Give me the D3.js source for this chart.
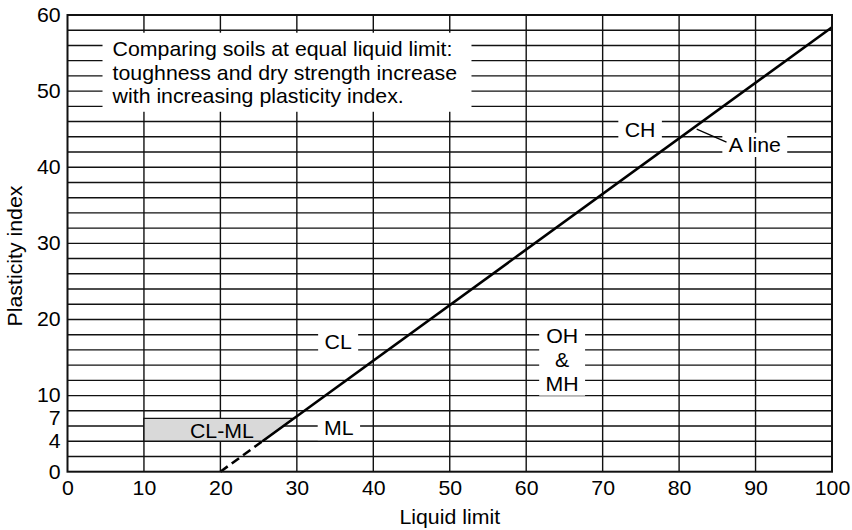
<!DOCTYPE html>
<html>
<head>
<meta charset="utf-8">
<script src="https://cdn.jsdelivr.net/npm/d3@7"></script>
<style>
  html, body { margin: 0; padding: 0; background: #fff; }
  svg { display: block; }
  text { font-family: "Liberation Sans", Arial, Helvetica, sans-serif; fill: #000; }
</style>
</head>
<body>
<svg id="chart" width="852" height="530"></svg>
<script>
// ---- data ----
const xTicks = [0, 10, 20, 30, 40, 50, 60, 70, 80, 90, 100];
const yTicks = [0, 4, 7, 10, 20, 30, 40, 50, 60];
const xGrid = [10, 20, 30, 40, 50, 60, 70, 80, 90];
const yGrid = [2, 4, 6, 8, 10, 12, 14, 16, 18, 20, 22, 24, 26, 28, 30, 32, 34, 36, 38, 40, 42, 44, 46, 48, 50, 52, 54, 56, 58];
const aLineDashed = [[20, 0], [25.5, 4]];
const aLineSolid = [[25.5, 4], [100, 58.4]];
const clmlZone = [[10, 4], [10, 7], [29.6, 7], [25.5, 4]];
const zoneLabels = [
  { lines: ["CH"], ll: 74.9, pi: 44.9 },
  { lines: ["A line"], ll: 89.9, pi: 42.9 },
  { lines: ["CL"], ll: 35.4, pi: 17.0 },
  { lines: ["OH", "&", "MH"], ll: 64.7, pi: 14.7 },
  { lines: ["ML"], ll: 35.5, pi: 5.7 }
];
const clmlLabel = { text: "CL-ML", ll: 20.2, pi: 5.4 };
const leader = [[82.3, 45.0], [86.2, 43.3]];
const noteLines = [
  "Comparing soils at equal liquid limit:",
  "toughness and dry strength increase",
  "with increasing plasticity index."
];
const notePos = { ll: 5.9, pi: 54.6 };
const xTitle = "Liquid limit";
const yTitle = "Plasticity index";

// ---- layout ----
const svg = d3.select("#chart");
const x = d3.scaleLinear().domain([0, 100]).range([67.5, 832]);
const y = d3.scaleLinear().domain([0, 60]).range([471.7, 15]);
const FS = 20;
const SX = 1.065;
const ink = "#111";

// grid
svg.append("g").selectAll("line").data(yGrid).join("line")
  .attr("x1", x(0)).attr("x2", x(100))
  .attr("y1", d => y(d)).attr("y2", d => y(d))
  .attr("stroke", ink).attr("stroke-width", 1.4);
svg.append("g").selectAll("line").data(xGrid).join("line")
  .attr("y1", y(0)).attr("y2", y(60))
  .attr("x1", d => x(d)).attr("x2", d => x(d))
  .attr("stroke", ink).attr("stroke-width", 1.4);

// CL-ML zone
const line = d3.line().x(d => x(d[0])).y(d => y(d[1]));
svg.append("path").datum(clmlZone)
  .attr("d", d => line(d) + "Z")
  .attr("fill", "#d9d9d9").attr("stroke", ink).attr("stroke-width", 1.4);

// A line
svg.append("path").datum(aLineSolid).attr("d", line)
  .attr("fill", "none").attr("stroke", "#000").attr("stroke-width", 2.6);
svg.append("path").datum(aLineDashed).attr("d", line)
  .attr("fill", "none").attr("stroke", "#000").attr("stroke-width", 2.6)
  .attr("stroke-dasharray", "9,5");

// note box
const noteG = svg.append("g")
  .attr("transform", `translate(${x(notePos.ll)},${y(notePos.pi)}) scale(${SX},1)`);
const noteRect = noteG.append("rect").attr("fill", "#fff");
const noteText = noteG.append("text").attr("font-size", FS);
noteText.selectAll("tspan").data(noteLines).join("tspan")
  .attr("x", 0)
  .attr("y", (d, i) => i * 23.4)
  .text(d => d);
{
  const b = noteText.node().getBBox();
  noteRect.attr("x", b.x - 8.5).attr("y", b.y - 5)
    .attr("width", b.width + 22).attr("height", b.height + 10);
}

// zone labels with white backgrounds
zoneLabels.forEach(L => {
  const g = svg.append("g")
    .attr("transform", `translate(${x(L.ll)},${y(L.pi)}) scale(${SX},1)`);
  const r = g.append("rect").attr("fill", "#fff");
  const t = g.append("text").attr("font-size", FS).attr("text-anchor", "middle");
  const n = L.lines.length;
  t.selectAll("tspan").data(L.lines).join("tspan")
    .attr("x", 0)
    .attr("y", (d, i) => (i - (n - 1) / 2) * 24)
    .attr("dy", "0.35em")
    .text(d => d);
  const b = t.node().getBBox();
  r.attr("x", b.x - 6).attr("y", b.y - 1)
    .attr("width", b.width + 12).attr("height", b.height + 2);
});

// CL-ML label
svg.append("text").attr("font-size", FS).attr("text-anchor", "middle")
  .attr("transform", `translate(${x(clmlLabel.ll)},${y(clmlLabel.pi)}) scale(${SX},1)`)
  .attr("dy", "0.35em")
  .text(clmlLabel.text);

// leader line
svg.append("path").datum(leader).attr("d", line)
  .attr("stroke", "#000").attr("stroke-width", 1.2).attr("fill", "none");

// border
svg.append("rect")
  .attr("x", x(0)).attr("y", y(60))
  .attr("width", x(100) - x(0)).attr("height", y(0) - y(60))
  .attr("fill", "none").attr("stroke", ink).attr("stroke-width", 2);

// axes
const xAxis = svg.append("g").attr("transform", `translate(0,${y(0)})`)
  .call(d3.axisBottom(x).tickValues(xTicks).tickSize(0).tickPadding(9).tickFormat(d3.format("d")));
const yAxis = svg.append("g").attr("transform", `translate(${x(0)},0)`)
  .call(d3.axisLeft(y).tickValues(yTicks).tickSize(0).tickPadding(6.5).tickFormat(d3.format("d")));
[xAxis, yAxis].forEach(a => {
  a.select(".domain").remove();
  a.selectAll("text").attr("font-size", FS)
    .attr("font-family", "'Liberation Sans', Arial, sans-serif").attr("fill", "#000")
    .attr("transform", `scale(${SX},1)`);
});

// titles
svg.append("text").attr("font-size", FS).attr("text-anchor", "middle")
  .attr("transform", `translate(${x(50)},524) scale(${SX},1)`).text(xTitle);
svg.append("text").attr("font-size", FS).attr("text-anchor", "middle")
  .attr("transform", `translate(22,256) rotate(-90) scale(${SX},1)`).text(yTitle);
</script>
</body>
</html>
